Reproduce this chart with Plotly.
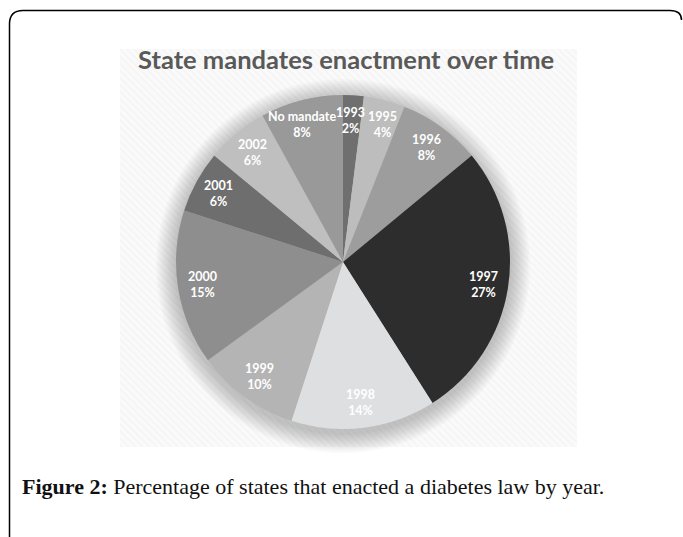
import math
import plotly.graph_objects as go

# Share of states by year of enactment
years = ["1993", "1995", "1996", "1997", "1998", "1999", "2000", "2001", "2002", "No mandate"]
shares = [2, 4, 8, 27, 14, 10, 15, 6, 6, 8]
slice_colors = ["#6f6f6f", "#bdbdbd", "#9d9d9d", "#2d2d2d", "#dedfe0",
                "#b4b4b4", "#8e8e8e", "#6e6e6e", "#bfbfbf", "#999999"]

title_text = "State mandates enactment over time"
caption_bold = "Figure 2:"
caption_rest = "Percentage of states that enacted a diabetes law by year."

W, H = 683, 537
cx, cy, R = 343, 262, 167          # pie centre and radius in pixels
panel = (120, 49, 577, 447)        # chart panel: left, top, right, bottom

fig = go.Figure()

# hatched chart panel
px0, py0, px1, py1 = panel
fig.add_trace(go.Scatter(
    x=[px0, px1, px1, px0, px0], y=[py0, py0, py1, py1, py0],
    mode="lines", fill="toself", line=dict(width=0),
    fillcolor="#f9f9f9",
    fillpattern=dict(shape="\\", size=5, solidity=0.25,
                     fgcolor="#ebebeb", bgcolor="#fafafa"),
    hoverinfo="skip", showlegend=False))

# soft shadow under the pie
shadow_steps = list(range(20, 0, -2))
fig.add_trace(go.Scatter(
    x=[cx] * len(shadow_steps), y=[cy + 4] * len(shadow_steps),
    mode="markers",
    marker=dict(size=[2 * (R + s) for s in shadow_steps],
                color="rgba(0,0,0,0.035)", line=dict(width=0)),
    hoverinfo="skip", showlegend=False))

# the pie itself
fig.add_trace(go.Pie(
    labels=years, values=shares, sort=False, direction="clockwise",
    rotation=0, textinfo="none", hoverinfo="skip",
    marker=dict(colors=slice_colors, line=dict(width=0)),
    domain=dict(x=[(cx - R) / W, (cx + R) / W],
                y=[1 - (cy + R) / H, 1 - (cy - R) / H]),
    showlegend=False))

# slice labels placed along each slice's bisector; the crowded labels
# near 12 o'clock are eased apart a little
label_nudge = {"No mandate": -6, "1993": -1, "1995": 4}
annotations = []
total = sum(shares)
cum = 0
for name, v in zip(years, shares):
    mid = (cum + v / 2) / total * 2 * math.pi
    cum += v
    rr = 0.85 * R
    annotations.append(dict(
        x=cx + rr * math.sin(mid), y=cy - rr * math.cos(mid),
        xref="x", yref="y", showarrow=False, xshift=label_nudge.get(name, 0),
        text=f"{name}<br>{v}%", align="center",
        font=dict(family="Lato", size=12.5, color="white", weight="bold")))

annotations.append(dict(
    x=346, y=59, xref="x", yref="y", showarrow=False, text=title_text,
    font=dict(family="Lato", size=25.5, color="#595959", weight="bold")))

annotations.append(dict(
    x=20, y=486, xref="x", yref="y", xanchor="left", showarrow=False,
    text=f"<b>{caption_bold}</b> {caption_rest}",
    font=dict(family="Liberation Serif", size=22, color="#111111")))

# page frame with rounded corners at the top
frame = "M 9.5 537 L 9.5 24 Q 9.5 10.5 23 10.5 L 670 10.5 Q 681.5 10.5 681.5 20"

fig.update_layout(
    width=W, height=H,
    margin=dict(l=0, r=0, t=0, b=0),
    paper_bgcolor="white", plot_bgcolor="white",
    xaxis=dict(range=[0, W], visible=False, fixedrange=True),
    yaxis=dict(range=[H, 0], visible=False, fixedrange=True),
    annotations=annotations,
    shapes=[dict(type="path", path=frame, xref="x", yref="y",
                 line=dict(color="black", width=1.5), layer="above")],
)

fig.write_html("out.html")
